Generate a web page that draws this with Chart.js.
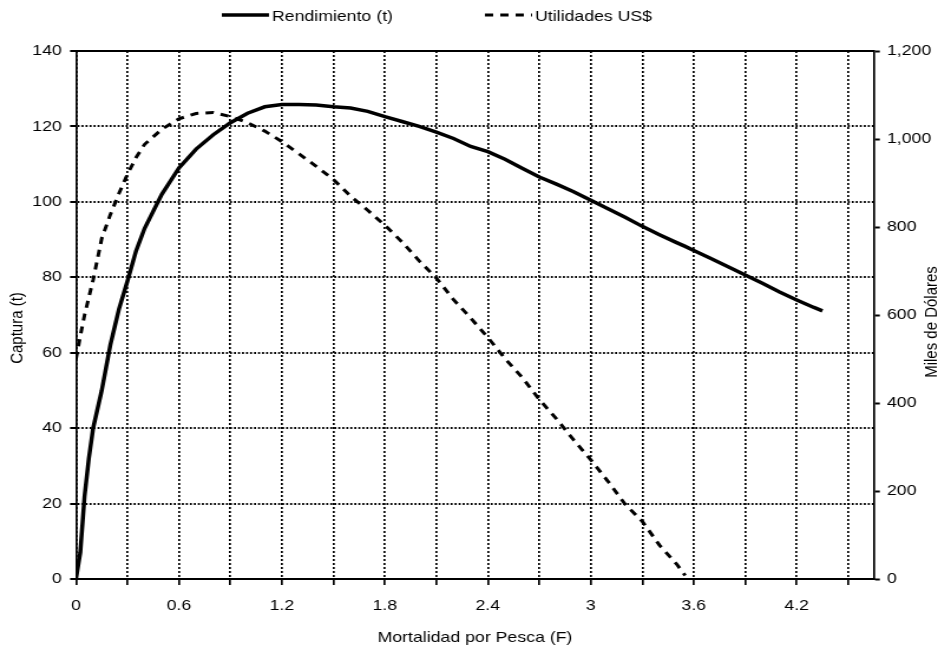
<!DOCTYPE html>
<html>
<head>
    <title>Rendimiento y Utilidades</title>
    <script src="https://cdn.jsdelivr.net/npm/chart.js"></script>
    <style>
        body { margin: 0; background: #fff; }
        canvas { display: block; }
    </style>
</head>
<body>
    <!-- the original picture is stretched sideways, so the canvas is drawn narrower and widened by CSS -->
    <canvas id="yieldChart" width="795" height="651" style="width:938px;height:651px"></canvas>

    <script>
        // Mortalidad por pesca (F)
        const mortalidadF = [0, 0.025, 0.05, 0.075, 0.1, 0.15, 0.2, 0.25, 0.3, 0.35, 0.4, 0.5, 0.6, 0.7, 0.8, 0.9,
            1.0, 1.1, 1.2, 1.3, 1.4, 1.5, 1.6, 1.7, 1.8, 1.9, 2.0, 2.1, 2.2, 2.3, 2.4, 2.5, 2.6, 2.7, 2.8, 2.9,
            3.0, 3.1, 3.2, 3.3, 3.4, 3.5, 3.55, 3.6, 3.7, 3.8, 3.9, 4.0, 4.1, 4.2, 4.3, 4.35];

        // Rendimiento (t), left axis
        const rendimiento = [0, 7, 22, 32, 40, 50, 62, 71.5, 79, 87, 93, 102, 109, 114, 117.8, 121,
            123.5, 125.2, 125.8, 125.8, 125.7, 125.2, 124.9, 124, 122.6, 121.3, 120, 118.5, 116.8, 114.7, 113.3, 111.3, 108.9, 106.6, 104.7, 102.7,
            100.4, 98.2, 95.9, 93.5, 91.3, 89.2, 88.2, 87.1, 85, 82.8, 80.6, 78.4, 76.1, 74, 72, 71.1];

        // Utilidades (miles de US$), right axis
        const utilidades = [500, 552, 600, 640, 680, 774, 828, 876, 920, 958, 988, 1022, 1046, 1058, 1060, 1051,
            1037, 1018, 994, 966, 938, 908, 870, 838, 804, 766, 723, 684, 635, 593, 549, 501, 458, 408, 364, 316,
            271, 222, 170, 131, 77, 34, 8, null, null, null, null, null, null, null, null, null];

        const xTickLabels = ['0', '0.6', '1.2', '1.8', '2.4', '3', '3.6', '4.2'];
        const seriesNames = ['Rendimiento (t)', 'Utilidades US$'];

        const FONT = '15px "Liberation Sans", Arial, sans-serif';
        Chart.defaults.font.family = '"Liberation Sans", Arial, sans-serif';
        Chart.defaults.font.size = 15;
        Chart.defaults.color = '#000';

        // legend, vertical axis titles and the top frame line
        const extras = {
            id: 'extras',
            afterDraw(chart) {
                const { ctx, chartArea } = chart;
                ctx.save();
                ctx.strokeStyle = '#000';
                ctx.lineWidth = 2;
                ctx.beginPath();
                ctx.moveTo(chartArea.left, chartArea.top);
                ctx.lineTo(chartArea.right, chartArea.top);
                ctx.stroke();

                ctx.font = FONT;
                ctx.fillStyle = '#000';
                ctx.textAlign = 'center';
                ctx.textBaseline = 'middle';
                [[14.4, 328, 'Captura (t)'], [789.5, 322, 'Miles de Dólares']].forEach(([x, y, text]) => {
                    ctx.save();
                    ctx.translate(x, y);
                    ctx.rotate(-Math.PI / 2);
                    ctx.fillText(text, 0, 0);
                    ctx.restore();
                });

                const starts = [188, 411];
                chart.data.datasets.forEach((ds, i) => {
                    ctx.lineWidth = ds.borderWidth;
                    ctx.setLineDash(ds.borderDash || []);
                    ctx.beginPath();
                    ctx.moveTo(starts[i], 15);
                    ctx.lineTo(starts[i] + 40, 15);
                    ctx.stroke();
                    ctx.setLineDash([]);
                    ctx.textAlign = 'left';
                    ctx.fillText(ds.label, starts[i] + 42.5, 16.5);
                });
                ctx.restore();
            }
        };

        const ctx = document.getElementById('yieldChart').getContext('2d');
        new Chart(ctx, {
            type: 'line',
            data: {
                datasets: [
                    {
                        label: seriesNames[0],
                        data: mortalidadF.map((f, i) => ({ x: f, y: rendimiento[i] })),
                        yAxisID: 'y',
                        borderColor: '#000',
                        borderWidth: 3.5,
                        pointRadius: 0,
                        fill: false,
                    },
                    {
                        label: seriesNames[1],
                        data: mortalidadF.map((f, i) => ({ x: f, y: utilidades[i] })),
                        yAxisID: 'y1',
                        borderColor: '#000',
                        borderWidth: 3,
                        borderDash: [7, 6],
                        pointRadius: 0,
                        fill: false,
                    },
                ],
            },
            options: {
                responsive: false,
                animation: false,
                devicePixelRatio: 1,
                locale: 'en-US',
                layout: { padding: { top: 51 } },
                plugins: {
                    legend: { display: false },
                    tooltip: { enabled: false },
                },
                scales: {
                    x: {
                        type: 'linear',
                        min: 0,
                        max: 4.65,
                        afterFit: (scale) => { scale.height = 72; },
                        ticks: {
                            stepSize: 0.3,
                            includeBounds: false,
                            autoSkip: false,
                            maxRotation: 0,
                            padding: 12,
                            callback: (v) => {
                                const s = String(Math.round(v * 10) / 10);
                                return xTickLabels.includes(s) ? s : '';
                            },
                        },
                        grid: { color: '#000', lineWidth: 1.7, tickLength: 6, tickColor: '#000', tickWidth: 1.7 },
                        border: { color: '#000', width: 2, dash: [2, 2] },
                        title: { display: true, text: 'Mortalidad por Pesca (F)', padding: { top: 0, bottom: 4 } },
                    },
                    y: {
                        position: 'left',
                        min: 0,
                        max: 140,
                        afterFit: (scale) => { scale.width = 64.4; },
                        ticks: { stepSize: 20, padding: 7 },
                        grid: { color: '#000', lineWidth: 2, tickLength: 5, tickColor: '#000', tickWidth: 2 },
                        border: { color: '#000', width: 1.7, dash: [1.7, 1.7] },
                    },
                    y1: {
                        position: 'right',
                        min: 0,
                        max: 1200,
                        afterFit: (scale) => { scale.width = 54.3; },
                        ticks: { stepSize: 200, padding: 6 },
                        grid: { drawOnChartArea: false, tickLength: 5, tickColor: '#000', tickWidth: 2 },
                        border: { color: '#000', width: 1.7 },
                    },
                },
            },
            plugins: [extras],
        });
    </script>
</body>
</html>
